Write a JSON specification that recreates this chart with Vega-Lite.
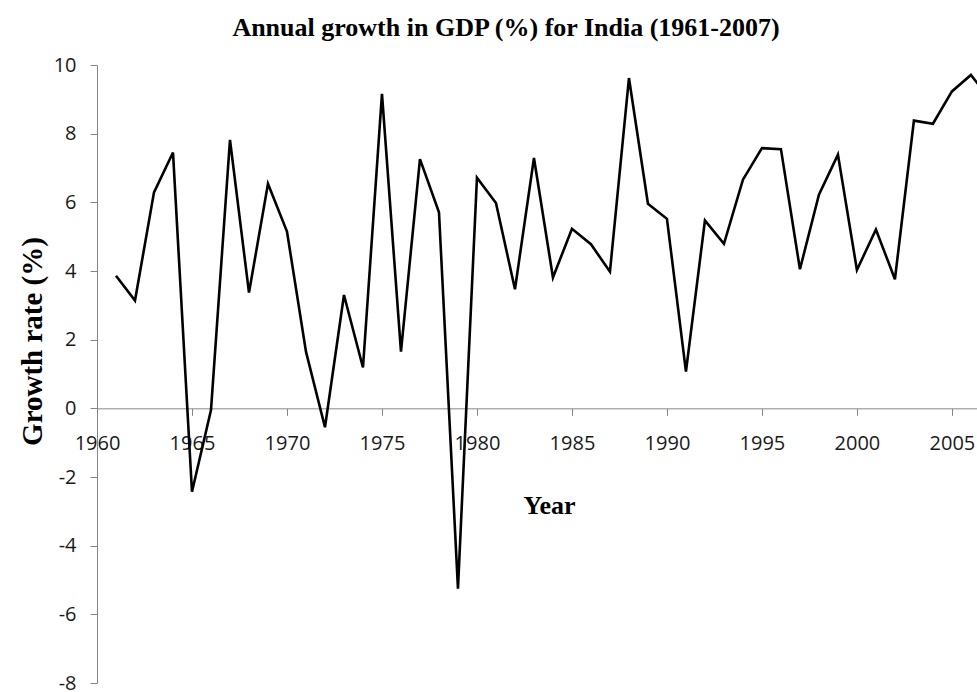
{
  "$schema": "https://vega.github.io/schema/vega-lite/v6.json",
  "autosize": {"type": "none"},
  "padding": {"left": 97, "top": 65, "right": 0, "bottom": 9},
  "width": 880,
  "height": 618,
  "background": "white",
  "title": {
    "text": "Annual growth in GDP (%) for India (1961-2007)",
    "font": "Liberation Serif",
    "fontSize": 26,
    "fontWeight": "bold",
    "color": "black",
    "anchor": "middle",
    "frame": "group",
    "dx": -31,
    "dy": 29,
    "offset": 22,
    "baseline": "alphabetic"
  },
  "data": {
    "values": [
      {"year": 1961, "growth": 3.86},
      {"year": 1962, "growth": 3.14},
      {"year": 1963, "growth": 6.29},
      {"year": 1964, "growth": 7.45},
      {"year": 1965, "growth": -2.43},
      {"year": 1966, "growth": -0.05},
      {"year": 1967, "growth": 7.82},
      {"year": 1968, "growth": 3.37},
      {"year": 1969, "growth": 6.54},
      {"year": 1970, "growth": 5.15},
      {"year": 1971, "growth": 1.65},
      {"year": 1972, "growth": -0.55},
      {"year": 1973, "growth": 3.30},
      {"year": 1974, "growth": 1.19},
      {"year": 1975, "growth": 9.16},
      {"year": 1976, "growth": 1.65},
      {"year": 1977, "growth": 7.26},
      {"year": 1978, "growth": 5.71},
      {"year": 1979, "growth": -5.25},
      {"year": 1980, "growth": 6.72},
      {"year": 1981, "growth": 5.98},
      {"year": 1982, "growth": 3.47},
      {"year": 1983, "growth": 7.29},
      {"year": 1984, "growth": 3.81},
      {"year": 1985, "growth": 5.23},
      {"year": 1986, "growth": 4.78},
      {"year": 1987, "growth": 3.98},
      {"year": 1988, "growth": 9.62},
      {"year": 1989, "growth": 5.96},
      {"year": 1990, "growth": 5.52},
      {"year": 1991, "growth": 1.07},
      {"year": 1992, "growth": 5.47},
      {"year": 1993, "growth": 4.79},
      {"year": 1994, "growth": 6.66},
      {"year": 1995, "growth": 7.58},
      {"year": 1996, "growth": 7.55},
      {"year": 1997, "growth": 4.05},
      {"year": 1998, "growth": 6.22},
      {"year": 1999, "growth": 7.39},
      {"year": 2000, "growth": 4.03},
      {"year": 2001, "growth": 5.21},
      {"year": 2002, "growth": 3.76},
      {"year": 2003, "growth": 8.38},
      {"year": 2004, "growth": 8.29},
      {"year": 2005, "growth": 9.23},
      {"year": 2006, "growth": 9.71},
      {"year": 2007, "growth": 9.0}
    ]
  },
  "mark": {"type": "line", "clip": true, "color": "black", "strokeWidth": 2.6, "strokeJoin": "miter"},
  "encoding": {
    "x": {
      "field": "year",
      "type": "quantitative",
      "scale": {"domain": [1960, 2006.32], "nice": false, "zero": false},
      "axis": {
        "values": [1960, 1965, 1970, 1975, 1980, 1985, 1990, 1995, 2000, 2005],
        "format": "d",
        "offset": -274.67,
        "grid": false,
        "domainColor": "#868686",
        "tickColor": "#868686",
        "tickSize": 7,
        "labelFont": "Open Sans",
        "labelFontSize": 20,
        "labelColor": "#1a1a1a",
        "labelPadding": 18,
        "labelFlush": false,
        "labelOverlap": false,
        "title": "Year",
        "titleFont": "Liberation Serif",
        "titleFontSize": 26,
        "titleFontWeight": "bold",
        "titleColor": "black",
        "titleX": 452,
        "titleY": 97,
        "titleAlign": "center",
        "titleBaseline": "middle"
      }
    },
    "y": {
      "field": "growth",
      "type": "quantitative",
      "scale": {"domain": [-8, 10], "nice": false},
      "axis": {
        "values": [-8, -6, -4, -2, 0, 2, 4, 6, 8, 10],
        "labelExpr": "datum.value < 0 ? '-' + abs(datum.value) : '' + datum.value",
        "grid": false,
        "domainColor": "#868686",
        "tickColor": "#868686",
        "tickSize": 7,
        "labelFont": "Open Sans",
        "labelFontSize": 20,
        "labelColor": "#1a1a1a",
        "labelPadding": 14,
        "labelFlush": false,
        "labelOverlap": false,
        "title": "Growth rate (%)",
        "titleFont": "Liberation Serif",
        "titleFontSize": 29,
        "titleFontWeight": "bold",
        "titleColor": "black",
        "titleX": -65,
        "titleY": 276,
        "titleAngle": -90,
        "titleAlign": "center",
        "titleBaseline": "middle"
      }
    }
  },
  "config": {"view": {"stroke": null}}
}
